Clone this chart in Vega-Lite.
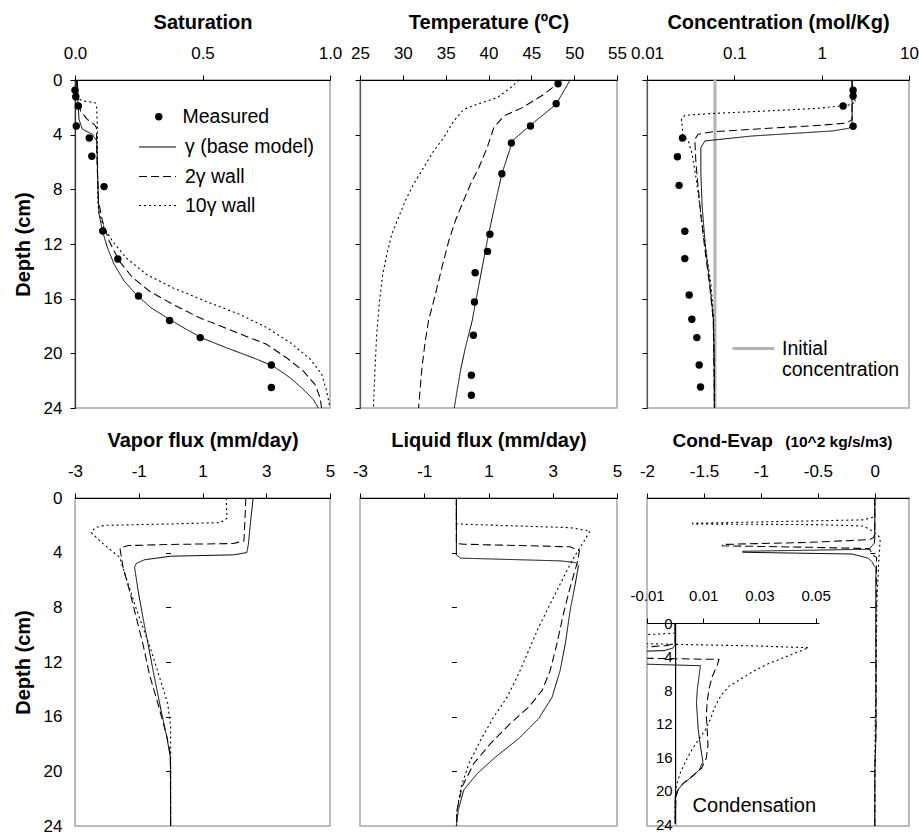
{
"$schema":"https://vega.github.io/schema/vega-lite/v6.json",
"padding":{"left":12,"top":11,"right":0,"bottom":0},
"background":"white",
"config":{
 "font":"Liberation Sans",
 "view":{"stroke":"#a6a6a6","strokeWidth":1.5},
 "axis":{"grid":false,"labelFont":"Liberation Sans","labelFontSize":17,"labelColor":"black","titleFont":"Liberation Sans","titleFontSize":20,"titleFontWeight":"bold","titleColor":"black","tickColor":"black","domainColor":"black","domainWidth":1.2,"tickSize":5,"labelFlush":false,"labelOverlap":false},
 "legend":{"labelFont":"Liberation Sans","labelColor":"black"}
},
"datasets":{
 "sat":[
  {"s":"b","d":0,"x":0.005},{"s":"b","d":1.5,"x":0.011},{"s":"b","d":2.9,"x":0.016},{"s":"b","d":3.6,"x":0.029},{"s":"b","d":3.97,"x":0.068},{"s":"b","d":4.46,"x":0.085},{"s":"b","d":6.4,"x":0.088},{"s":"b","d":8.85,"x":0.092},{"s":"b","d":9.83,"x":0.0945},{"s":"b","d":11.05,"x":0.1076},{"s":"b","d":12.27,"x":0.1273},{"s":"b","d":13.49,"x":0.1535},{"s":"b","d":14.71,"x":0.1929},{"s":"b","d":15.68,"x":0.239},{"s":"b","d":16.66,"x":0.298},{"s":"b","d":17.51,"x":0.37},{"s":"b","d":18.24,"x":0.436},{"s":"b","d":18.9,"x":0.501},{"s":"b","d":19.59,"x":0.593},{"s":"b","d":20.32,"x":0.698},{"s":"b","d":20.93,"x":0.777},{"s":"b","d":21.78,"x":0.843},{"s":"b","d":22.63,"x":0.895},{"s":"b","d":23.37,"x":0.934},{"s":"b","d":24,"x":0.954},
  {"s":"w2","d":0,"x":0.009},{"s":"w2","d":1.5,"x":0.012},{"s":"w2","d":2.27,"x":0.022},{"s":"w2","d":2.88,"x":0.048},{"s":"w2","d":3.24,"x":0.075},{"s":"w2","d":3.49,"x":0.084},{"s":"w2","d":6.4,"x":0.087},{"s":"w2","d":8.85,"x":0.092},{"s":"w2","d":10.32,"x":0.1076},{"s":"w2","d":11.78,"x":0.134},{"s":"w2","d":13.24,"x":0.173},{"s":"w2","d":14.46,"x":0.226},{"s":"w2","d":15.44,"x":0.291},{"s":"w2","d":16.41,"x":0.383},{"s":"w2","d":17.39,"x":0.488},{"s":"w2","d":18.37,"x":0.619},{"s":"w2","d":19.34,"x":0.751},{"s":"w2","d":20.32,"x":0.829},{"s":"w2","d":21.29,"x":0.895},{"s":"w2","d":22.27,"x":0.941},{"s":"w2","d":23.24,"x":0.961},{"s":"w2","d":24,"x":0.967},
  {"s":"w10","d":0,"x":0.005},{"s":"w10","d":1.41,"x":0.016},{"s":"w10","d":1.54,"x":0.035},{"s":"w10","d":1.66,"x":0.079},{"s":"w10","d":2.03,"x":0.085},{"s":"w10","d":3.7,"x":0.088},{"s":"w10","d":8.85,"x":0.089},{"s":"w10","d":9.8,"x":0.094},{"s":"w10","d":10.8,"x":0.114},{"s":"w10","d":11.8,"x":0.147},{"s":"w10","d":13,"x":0.2},{"s":"w10","d":14.2,"x":0.278},{"s":"w10","d":15.2,"x":0.383},{"s":"w10","d":16.2,"x":0.514},{"s":"w10","d":17.15,"x":0.646},{"s":"w10","d":18.1,"x":0.75},{"s":"w10","d":19.2,"x":0.843},{"s":"w10","d":20.4,"x":0.921},{"s":"w10","d":21.5,"x":0.967},{"s":"w10","d":22.75,"x":0.987},{"s":"w10","d":24,"x":1.0}
 ],
 "satM":[
  {"s":"Measured","d":0.75,"x":0.0},{"s":"Measured","d":1.22,"x":0.003},{"s":"Measured","d":1.9,"x":0.013},{"s":"Measured","d":3.37,"x":0.005},{"s":"Measured","d":4.24,"x":0.056},{"s":"Measured","d":5.58,"x":0.066},{"s":"Measured","d":7.8,"x":0.114},{"s":"Measured","d":11.05,"x":0.109},{"s":"Measured","d":13.1,"x":0.168},{"s":"Measured","d":15.8,"x":0.249},{"s":"Measured","d":17.6,"x":0.371},{"s":"Measured","d":18.85,"x":0.491},{"s":"Measured","d":20.85,"x":0.77},{"s":"Measured","d":22.5,"x":0.77}
 ],
 "tmp":[
  {"s":"b","d":0,"x":49.53},{"s":"b","d":1.78,"x":47.89},{"s":"b","d":3.29,"x":44.92},{"s":"b","d":4.46,"x":42.77},{"s":"b","d":5.07,"x":42.5},{"s":"b","d":6.78,"x":41.6},{"s":"b","d":8.36,"x":41.02},{"s":"b","d":10.07,"x":40.43},{"s":"b","d":11.78,"x":39.85},{"s":"b","d":13.73,"x":39.26},{"s":"b","d":15.68,"x":38.67},{"s":"b","d":17.63,"x":38.09},{"s":"b","d":19.59,"x":37.3},{"s":"b","d":21.29,"x":36.72},{"s":"b","d":24,"x":36.0},
  {"s":"w2","d":0,"x":48.6},{"s":"w2","d":1.05,"x":46.48},{"s":"w2","d":2.02,"x":43.95},{"s":"w2","d":2.63,"x":41.8},{"s":"w2","d":3.49,"x":40.62},{"s":"w2","d":4.95,"x":39.84},{"s":"w2","d":6.42,"x":38.87},{"s":"w2","d":7.63,"x":37.89},{"s":"w2","d":9.1,"x":36.91},{"s":"w2","d":10.3,"x":36.13},{"s":"w2","d":11.8,"x":35.35},{"s":"w2","d":13.7,"x":34.57},{"s":"w2","d":15.7,"x":33.79},{"s":"w2","d":17.6,"x":33.0},{"s":"w2","d":19.1,"x":32.62},{"s":"w2","d":21.05,"x":32.23},{"s":"w2","d":24,"x":31.84},
  {"s":"w10","d":0,"x":43.56},{"s":"w10","d":0.56,"x":42.58},{"s":"w10","d":1.29,"x":41.02},{"s":"w10","d":1.78,"x":38.67},{"s":"w10","d":2.15,"x":37.11},{"s":"w10","d":3.0,"x":35.94},{"s":"w10","d":4.22,"x":34.77},{"s":"w10","d":5.2,"x":33.59},{"s":"w10","d":6.42,"x":32.42},{"s":"w10","d":7.63,"x":31.25},{"s":"w10","d":8.85,"x":30.27},{"s":"w10","d":10.07,"x":29.49},{"s":"w10","d":11.29,"x":28.71},{"s":"w10","d":12.76,"x":28.13},{"s":"w10","d":14.2,"x":27.66},{"s":"w10","d":16.2,"x":27.27},{"s":"w10","d":18.6,"x":26.95},{"s":"w10","d":21.05,"x":26.76},{"s":"w10","d":24,"x":26.56}
 ],
 "tmpM":[
  {"d":0.27,"x":48.12},{"d":1.73,"x":47.9},{"d":3.37,"x":44.9},{"d":4.61,"x":42.66},{"d":6.86,"x":41.56},{"d":11.29,"x":40.16},{"d":12.54,"x":39.88},{"d":14.1,"x":38.44},{"d":16.24,"x":38.36},{"d":18.68,"x":38.24},{"d":21.6,"x":38.0},{"d":23.07,"x":38.0}
 ],
 "con":[
  {"s":"b","d":0,"x":2.23},{"s":"b","d":3.24,"x":2.23},{"s":"b","d":3.54,"x":2.04},{"s":"b","d":3.73,"x":1.31},{"s":"b","d":4.1,"x":0.158},{"s":"b","d":4.46,"x":0.046},{"s":"b","d":4.95,"x":0.0414},{"s":"b","d":6.9,"x":0.0414},{"s":"b","d":9.34,"x":0.0429},{"s":"b","d":12.27,"x":0.0468},{"s":"b","d":14.95,"x":0.0525},{"s":"b","d":17.39,"x":0.0574},{"s":"b","d":21.05,"x":0.0592},{"s":"b","d":24,"x":0.0592},
  {"s":"w2","d":0,"x":2.23},{"s":"w2","d":2.88,"x":2.23},{"s":"w2","d":3.15,"x":1.95},{"s":"w2","d":3.32,"x":0.924},{"s":"w2","d":3.61,"x":0.158},{"s":"w2","d":3.8,"x":0.0548},{"s":"w2","d":3.97,"x":0.0386},{"s":"w2","d":4.34,"x":0.0353},{"s":"w2","d":5.93,"x":0.0362},{"s":"w2","d":7.88,"x":0.0386},{"s":"w2","d":10.3,"x":0.042},{"s":"w2","d":12.75,"x":0.0468},{"s":"w2","d":15.2,"x":0.0525},{"s":"w2","d":17.6,"x":0.0574},{"s":"w2","d":24,"x":0.0592},
  {"s":"w10","d":0,"x":2.23},{"s":"w10","d":1.29,"x":2.29},{"s":"w10","d":1.61,"x":2.48},{"s":"w10","d":1.83,"x":2.04},{"s":"w10","d":2.07,"x":0.924},{"s":"w10","d":2.32,"x":0.158},{"s":"w10","d":2.44,"x":0.06},{"s":"w10","d":2.58,"x":0.0271},{"s":"w10","d":2.88,"x":0.0248},{"s":"w10","d":4.1,"x":0.0259},{"s":"w10","d":4.41,"x":0.0296},{"s":"w10","d":5.44,"x":0.0329},{"s":"w10","d":7.39,"x":0.0369},{"s":"w10","d":9.83,"x":0.0414},{"s":"w10","d":12.27,"x":0.0468},{"s":"w10","d":14.95,"x":0.054},{"s":"w10","d":17.4,"x":0.058},{"s":"w10","d":24,"x":0.0592}
 ],
 "conM":[
  {"d":0.75,"x":2.29},{"d":1.17,"x":2.29},{"d":1.9,"x":1.76},{"d":3.39,"x":2.29},{"d":4.24,"x":0.0255},{"d":5.61,"x":0.0223},{"d":7.71,"x":0.0233},{"d":11.07,"x":0.0271},{"d":13.07,"x":0.0271},{"d":15.73,"x":0.0304},{"d":17.51,"x":0.0326},{"d":18.85,"x":0.0372},{"d":20.85,"x":0.0396},{"d":22.46,"x":0.041}
 ],
 "conI":[{"s":"Initial concentration","d":0,"x":0.06},{"s":"Initial concentration","d":24,"x":0.06}],
 "vap":[
  {"s":"b","d":0,"x":2.59},{"s":"b","d":1.68,"x":2.51},{"s":"b","d":3.38,"x":2.44},{"s":"b","d":3.99,"x":2.39},{"s":"b","d":4.16,"x":1.97},{"s":"b","d":4.26,"x":0},{"s":"b","d":4.52,"x":-0.82},{"s":"b","d":4.79,"x":-1.08},{"s":"b","d":5.08,"x":-1.13},{"s":"b","d":6.78,"x":-1.02},{"s":"b","d":8.73,"x":-0.87},{"s":"b","d":10.67,"x":-0.71},{"s":"b","d":13.1,"x":-0.51},{"s":"b","d":15.54,"x":-0.3},{"s":"b","d":17.49,"x":-0.12},{"s":"b","d":18.95,"x":-0.01},{"s":"b","d":19.9,"x":0},{"s":"b","d":24,"x":0},
  {"s":"w2","d":0,"x":2.36},{"s":"w2","d":1.68,"x":2.33},{"s":"w2","d":3.14,"x":2.3},{"s":"w2","d":3.33,"x":1.97},{"s":"w2","d":3.4,"x":0},{"s":"w2","d":3.48,"x":-1.33},{"s":"w2","d":3.67,"x":-1.59},{"s":"w2","d":5.08,"x":-1.49},{"s":"w2","d":6.78,"x":-1.29},{"s":"w2","d":8.73,"x":-1.08},{"s":"w2","d":10.67,"x":-0.87},{"s":"w2","d":12.86,"x":-0.67},{"s":"w2","d":15.05,"x":-0.4},{"s":"w2","d":17.24,"x":-0.14},{"s":"w2","d":18.7,"x":-0.01},{"s":"w2","d":24,"x":0},
  {"s":"w10","d":0,"x":1.74},{"s":"w10","d":1.48,"x":1.77},{"s":"w10","d":1.8,"x":1.56},{"s":"w10","d":1.9,"x":0},{"s":"w10","d":2.0,"x":-2.06},{"s":"w10","d":2.17,"x":-2.37},{"s":"w10","d":2.53,"x":-2.49},{"s":"w10","d":3.26,"x":-2.16},{"s":"w10","d":3.87,"x":-1.85},{"s":"w10","d":4.35,"x":-1.59},{"s":"w10","d":4.96,"x":-1.52},{"s":"w10","d":6.3,"x":-1.33},{"s":"w10","d":7.76,"x":-1.13},{"s":"w10","d":9.46,"x":-0.87},{"s":"w10","d":11.16,"x":-0.61},{"s":"w10","d":13.1,"x":-0.35},{"s":"w10","d":15.05,"x":-0.09},{"s":"w10","d":16.76,"x":0},{"s":"w10","d":24,"x":0}
 ],
 "liq":[
  {"s":"b","d":0,"x":0},{"s":"b","d":4.16,"x":0},{"s":"b","d":4.4,"x":0.13},{"s":"b","d":4.6,"x":3.23},{"s":"b","d":4.72,"x":3.7},{"s":"b","d":4.96,"x":3.8},{"s":"b","d":6.3,"x":3.7},{"s":"b","d":8.24,"x":3.54},{"s":"b","d":10.67,"x":3.39},{"s":"b","d":12.62,"x":3.23},{"s":"b","d":14.57,"x":2.98},{"s":"b","d":16.15,"x":2.56},{"s":"b","d":17.6,"x":1.94},{"s":"b","d":18.95,"x":1.22},{"s":"b","d":20.16,"x":0.65},{"s":"b","d":21.37,"x":0.23},{"s":"b","d":22.83,"x":0.06},{"s":"b","d":24,"x":0},
  {"s":"w2","d":0,"x":0},{"s":"w2","d":3.33,"x":0},{"s":"w2","d":3.38,"x":0.23},{"s":"w2","d":3.57,"x":3.54},{"s":"w2","d":3.87,"x":3.83},{"s":"w2","d":4.84,"x":3.75},{"s":"w2","d":6.54,"x":3.54},{"s":"w2","d":8.49,"x":3.33},{"s":"w2","d":10.67,"x":3.13},{"s":"w2","d":12.62,"x":2.92},{"s":"w2","d":14.08,"x":2.67},{"s":"w2","d":15.3,"x":2.25},{"s":"w2","d":16.5,"x":1.68},{"s":"w2","d":17.97,"x":1.06},{"s":"w2","d":19.43,"x":0.54},{"s":"w2","d":21.13,"x":0.18},{"s":"w2","d":22.83,"x":0.02},{"s":"w2","d":24,"x":0},
  {"s":"w10","d":0,"x":0},{"s":"w10","d":1.87,"x":0},{"s":"w10","d":1.92,"x":0.23},{"s":"w10","d":2.17,"x":3.54},{"s":"w10","d":2.41,"x":4.16},{"s":"w10","d":3.26,"x":3.95},{"s":"w10","d":3.99,"x":3.75},{"s":"w10","d":5.08,"x":3.49},{"s":"w10","d":6.3,"x":3.23},{"s":"w10","d":7.76,"x":2.92},{"s":"w10","d":9.46,"x":2.56},{"s":"w10","d":11.16,"x":2.25},{"s":"w10","d":12.86,"x":1.94},{"s":"w10","d":14.57,"x":1.58},{"s":"w10","d":16.03,"x":1.16},{"s":"w10","d":17.73,"x":0.75},{"s":"w10","d":19.43,"x":0.39},{"s":"w10","d":21.13,"x":0.15},{"s":"w10","d":22.83,"x":0.02},{"s":"w10","d":24,"x":0}
 ],
 "ce":[
  {"s":"b","d":0,"x":0},{"s":"b","d":2.6,"x":0},{"s":"b","d":3.0,"x":-0.0008},{"s":"b","d":3.3,"x":-0.004},{"s":"b","d":3.75,"x":-0.05},{"s":"b","d":3.9,"x":-1.16},{"s":"b","d":3.97,"x":-1.16},{"s":"b","d":4.1,"x":-0.2},{"s":"b","d":4.4,"x":-0.06},{"s":"b","d":4.7,"x":-0.02},{"s":"b","d":4.9,"x":-0.012},{"s":"b","d":5.1,"x":0.009},{"s":"b","d":6.4,"x":0.0085},{"s":"b","d":7.96,"x":0.0079},{"s":"b","d":9.52,"x":0.0076},{"s":"b","d":11.09,"x":0.0079},{"s":"b","d":12.64,"x":0.0082},{"s":"b","d":14.2,"x":0.0088},{"s":"b","d":15.96,"x":0.0096},{"s":"b","d":16.54,"x":0.0099},{"s":"b","d":17.52,"x":0.0087},{"s":"b","d":18.5,"x":0.0055},{"s":"b","d":19.28,"x":0.0025},{"s":"b","d":20.05,"x":0.0008},{"s":"b","d":21,"x":0},{"s":"b","d":24,"x":0},
  {"s":"w2","d":0,"x":0},{"s":"w2","d":2.4,"x":0},{"s":"w2","d":2.7,"x":-0.003},{"s":"w2","d":2.9,"x":-0.012},{"s":"w2","d":3.05,"x":-0.05},{"s":"w2","d":3.25,"x":-0.6},{"s":"w2","d":3.4,"x":-1.34},{"s":"w2","d":3.5,"x":-1.34},{"s":"w2","d":3.6,"x":-0.6},{"s":"w2","d":3.7,"x":-0.05},{"s":"w2","d":4.2,"x":-0.012},{"s":"w2","d":4.35,"x":0.0156},{"s":"w2","d":5.03,"x":0.015},{"s":"w2","d":6.4,"x":0.0132},{"s":"w2","d":7.96,"x":0.012},{"s":"w2","d":9.52,"x":0.0114},{"s":"w2","d":11.09,"x":0.0111},{"s":"w2","d":12.64,"x":0.0114},{"s":"w2","d":14.6,"x":0.0117},{"s":"w2","d":16.16,"x":0.0111},{"s":"w2","d":17.33,"x":0.0094},{"s":"w2","d":18.3,"x":0.0061},{"s":"w2","d":19.1,"x":0.0031},{"s":"w2","d":19.87,"x":0.0011},{"s":"w2","d":20.8,"x":0.0003},{"s":"w2","d":24,"x":0},
  {"s":"w10","d":0,"x":0},{"s":"w10","d":1.2,"x":0},{"s":"w10","d":1.3,"x":-0.004},{"s":"w10","d":1.4,"x":-0.012},{"s":"w10","d":1.6,"x":-0.1},{"s":"w10","d":1.75,"x":-1.0},{"s":"w10","d":1.85,"x":-1.6},{"s":"w10","d":1.9,"x":-1.6},{"s":"w10","d":1.95,"x":-0.5},{"s":"w10","d":2.05,"x":-0.1},{"s":"w10","d":2.45,"x":-0.012},{"s":"w10","d":2.55,"x":0},{"s":"w10","d":2.75,"x":0.03},{"s":"w10","d":2.95,"x":0.0475},{"s":"w10","d":4.06,"x":0.0392},{"s":"w10","d":4.84,"x":0.0333},{"s":"w10","d":5.62,"x":0.0286},{"s":"w10","d":6.6,"x":0.0238},{"s":"w10","d":7.57,"x":0.0191},{"s":"w10","d":8.74,"x":0.0162},{"s":"w10","d":9.72,"x":0.0146},{"s":"w10","d":10.3,"x":0.0138},{"s":"w10","d":11.47,"x":0.0126},{"s":"w10","d":12.84,"x":0.0106},{"s":"w10","d":14.0,"x":0.0082},{"s":"w10","d":15.18,"x":0.0059},{"s":"w10","d":16.54,"x":0.0037},{"s":"w10","d":18.1,"x":0.0016},{"s":"w10","d":19.67,"x":0.0003},{"s":"w10","d":21,"x":0},{"s":"w10","d":24,"x":0}
 ]
},
"columns":3,
"spacing":{"row":90,"column":30},
"bounds":"flush",
"concat":[
  {"width":255,"height":328,
   "layer":[
    {"data":{"name":"sat"},"mark":{"type":"line","color":"black"},
     "encoding":{
      "x":{"field":"x","type":"quantitative","scale":{"domain":[0,1],"nice":false,"zero":false},"axis":{"orient":"top","values":[0,0.5,1],"format":".1f","title":"Saturation","labelPadding":13,"titleY":-52,"titleBaseline":"alphabetic"}},
      "y":{"field":"d","type":"quantitative","scale":{"domain":[0,24],"reverse":true,"nice":false,"zero":false},"axis":{"values":[0,4,8,12,16,20,24],"title":"Depth (cm)","labelPadding":8,"titlePadding":10,"domainColor":"#333"}},
      "order":{"field":"d","type":"quantitative"},
      "strokeDash":{"field":"s","type":"nominal","scale":{"domain":["b","w2","w10"],"range":[[1,0],[8,4],[2,3]]},
        "legend":{"orient":"none","legendX":63,"legendY":48,"title":null,"symbolType":"stroke","symbolSize":1369,"symbolStrokeWidth":1.3,"symbolStrokeColor":"black","labelFontSize":19.5,"labelOffset":8,"rowPadding":-2,"labelExpr":"{'b':'γ (base model)','w2':'2γ wall','w10':'10γ wall'}[datum.label]"}},
      "strokeWidth":{"field":"s","type":"ordinal","scale":{"domain":["b","w2","w10"],"range":[1,1.1,1.6]},"legend":null}
     }},
    {"data":{"name":"satM"},"mark":{"type":"point","filled":true,"color":"black","size":55,"opacity":1},
     "encoding":{
      "x":{"field":"x","type":"quantitative"},
      "y":{"field":"d","type":"quantitative"},
      "shape":{"field":"s","type":"nominal","scale":{"domain":["Measured"],"range":["circle"]},
        "legend":{"orient":"none","legendX":74,"legendY":27,"title":null,"symbolSize":55,"symbolFillColor":"black","symbolStrokeColor":"black","labelFontSize":19.5,"labelOffset":14}}
     }}
   ]},
  {"width":257,"height":328,
   "layer":[
    {"data":{"name":"tmp"},"mark":{"type":"line","color":"black"},
     "encoding":{
      "x":{"field":"x","type":"quantitative","scale":{"domain":[25,55],"nice":false,"zero":false},"axis":{"orient":"top","values":[25,30,35,40,45,50,55],"title":"Temperature (ºC)","labelPadding":13,"titleY":-52,"titleBaseline":"alphabetic"}},
      "y":{"field":"d","type":"quantitative","scale":{"domain":[0,24],"reverse":true,"nice":false,"zero":false},"axis":{"values":[0,4,8,12,16,20,24],"labels":false,"title":null,"domainColor":"#555"}},
      "order":{"field":"d","type":"quantitative"},
      "strokeDash":{"field":"s","type":"nominal","scale":{"domain":["b","w2","w10"],"range":[[1,0],[8,4],[2,3]]},"legend":null},
      "strokeWidth":{"field":"s","type":"ordinal","scale":{"domain":["b","w2","w10"],"range":[1,1.1,1.6]},"legend":null}
     }},
    {"data":{"name":"tmpM"},"mark":{"type":"point","filled":true,"color":"black","size":55,"opacity":1},
     "encoding":{"x":{"field":"x","type":"quantitative"},"y":{"field":"d","type":"quantitative"}}}
   ]},
  {"width":262,"height":328,
   "layer":[
    {"data":{"name":"conI"},"mark":{"type":"line","strokeWidth":3},
     "encoding":{
      "x":{"field":"x","type":"quantitative","scale":{"type":"log","domain":[0.01,10],"nice":false},"axis":{"orient":"top","values":[0.01,0.1,1,10],"labelExpr":"datum.value + ''","title":"Concentration (mol/Kg)","labelPadding":13,"titleY":-52,"titleBaseline":"alphabetic"}},
      "y":{"field":"d","type":"quantitative","scale":{"domain":[0,24],"reverse":true,"nice":false,"zero":false},"axis":{"values":[0,4,8,12,16,20,24],"labels":false,"title":null,"domainColor":"#555"}},
      "stroke":{"field":"s","type":"nominal","scale":{"domain":["Initial concentration"],"range":["#b3b3b3"]},
        "legend":{"orient":"none","legendX":656,"legendY":246,"title":null,"symbolType":"stroke","symbolSize":1764,"symbolStrokeWidth":3,"labelFontSize":19.5,"labelOffset":6,"labelExpr":"['Initial','concentration']"}}
     }},
    {"data":{"name":"con"},"mark":{"type":"line","color":"black"},
     "encoding":{
      "x":{"field":"x","type":"quantitative"},
      "y":{"field":"d","type":"quantitative"},
      "order":{"field":"d","type":"quantitative"},
      "strokeDash":{"field":"s","type":"nominal","scale":{"domain":["b","w2","w10"],"range":[[1,0],[8,4],[2,3]]},"legend":null},
      "strokeWidth":{"field":"s","type":"ordinal","scale":{"domain":["b","w2","w10"],"range":[1,1.1,1.6]},"legend":null}
     }},
    {"data":{"name":"conM"},"mark":{"type":"point","filled":true,"color":"black","size":55,"opacity":1},
     "encoding":{"x":{"field":"x","type":"quantitative"},"y":{"field":"d","type":"quantitative"}}}
   ]},
  {"width":255,"height":328,
   "resolve":{"axis":{"x":"independent","y":"independent"}},
   "layer":[
    {"data":{"name":"vap"},"mark":{"type":"line","color":"black"},
     "encoding":{
      "x":{"field":"x","type":"quantitative","scale":{"domain":[-3,5],"nice":false,"zero":false},"axis":{"orient":"top","values":[-3,-1,1,3,5],"labelExpr":"datum.value + ''","title":"Vapor flux (mm/day)","labelPadding":13,"titleY":-52,"titleBaseline":"alphabetic"}},
      "y":{"field":"d","type":"quantitative","scale":{"domain":[0,24],"reverse":true,"nice":false,"zero":false},"axis":{"values":[0,4,8,12,16,20,24],"title":"Depth (cm)","ticks":false,"tickSize":0,"domain":false,"labelPadding":13,"titlePadding":10}},
      "order":{"field":"d","type":"quantitative"},
      "strokeDash":{"field":"s","type":"nominal","scale":{"domain":["b","w2","w10"],"range":[[1,0],[8,4],[2,3]]},"legend":null},
      "strokeWidth":{"field":"s","type":"ordinal","scale":{"domain":["b","w2","w10"],"range":[1,1.1,1.6]},"legend":null}
     }},
    {"mark":{"type":"rule","color":"black","strokeWidth":1.2},
     "encoding":{
      "x":{"datum":0,"type":"quantitative","axis":null},
      "y":{"datum":0,"type":"quantitative","axis":{"orient":"left","offset":-95.6,"values":[4,8,12,16,20],"labels":false,"domain":false,"title":null}},
      "y2":{"datum":24}
     }}
   ]},
  {"width":257,"height":328,
   "resolve":{"axis":{"x":"independent","y":"independent"}},
   "layer":[
    {"data":{"name":"liq"},"mark":{"type":"line","color":"black"},
     "encoding":{
      "x":{"field":"x","type":"quantitative","scale":{"domain":[-3,5],"nice":false,"zero":false},"axis":{"orient":"top","values":[-3,-1,1,3,5],"labelExpr":"datum.value + ''","title":"Liquid flux (mm/day)","labelPadding":13,"titleY":-52,"titleBaseline":"alphabetic"}},
      "y":{"field":"d","type":"quantitative","scale":{"domain":[0,24],"reverse":true,"nice":false,"zero":false},"axis":null},
      "order":{"field":"d","type":"quantitative"},
      "strokeDash":{"field":"s","type":"nominal","scale":{"domain":["b","w2","w10"],"range":[[1,0],[8,4],[2,3]]},"legend":null},
      "strokeWidth":{"field":"s","type":"ordinal","scale":{"domain":["b","w2","w10"],"range":[1,1.1,1.6]},"legend":null}
     }},
    {"mark":{"type":"rule","color":"black","strokeWidth":1.2},
     "encoding":{
      "x":{"datum":0,"type":"quantitative","axis":null},
      "y":{"datum":0,"type":"quantitative","axis":{"orient":"left","offset":-96.4,"values":[4,8,12,16,20],"labels":false,"domain":false,"title":null}},
      "y2":{"datum":24}
     }}
   ]},
  {"width":262,"height":328,
   "resolve":{"scale":{"x":"independent","y":"independent"},"axis":{"x":"independent","y":"independent"}},
   "layer":[
    {"data":{"name":"ce"},"mark":{"type":"line","color":"black"},
     "encoding":{
      "x":{"field":"x","type":"quantitative","scale":{"domain":[-2,0.3],"nice":false,"zero":false},"axis":{"orient":"top","values":[-2,-1.5,-1,-0.5,0],"labelExpr":"datum.value + ''","title":"Cond-Evap","titleFontSize":19,"titleX":25,"titleAlign":"left","labelPadding":13,"titleY":-52,"titleBaseline":"alphabetic"}},
      "y":{"field":"d","type":"quantitative","scale":{"domain":[0,24],"reverse":true,"nice":false,"zero":false},"axis":null},
      "order":{"field":"d","type":"quantitative"},
      "strokeDash":{"field":"s","type":"nominal","scale":{"domain":["b","w2","w10"],"range":[[1,0],[8,4],[2,3]]},"legend":null},
      "strokeWidth":{"field":"s","type":"ordinal","scale":{"domain":["b","w2","w10"],"range":[1,1.1,1.6]},"legend":null}
     }},
    {"mark":{"type":"rule","color":"black","strokeWidth":1.2},
     "encoding":{
      "x":{"datum":0,"type":"quantitative","scale":{"domain":[-2,0.3],"nice":false,"zero":false},"axis":{"orient":"top","labels":false,"ticks":false,"domain":false,"title":"(10^2 kg/s/m3)","titleFontSize":15.5,"titleX":245,"titleAlign":"right","titleY":-52,"titleBaseline":"alphabetic"}},
      "y":{"datum":0,"type":"quantitative","scale":{"domain":[0,24],"reverse":true,"nice":false,"zero":false},"axis":{"orient":"left","offset":-227.8,"values":[4,8,12,16,20],"labels":false,"domain":false,"title":null}},
      "y2":{"datum":24}
     }},
    {"mark":{"type":"rect","fill":"white"},
     "encoding":{
      "x":{"datum":-0.0105,"type":"quantitative","scale":{"domain":[-0.01,0.0512],"range":[0,172],"nice":false,"zero":false},"axis":null},
      "x2":{"datum":0.0512},
      "y":{"datum":-5.6,"type":"quantitative","scale":{"domain":[0,24],"range":[125,326],"nice":false,"zero":false},"axis":null},
      "y2":{"datum":24.3}
     }},
    {"mark":{"type":"rect","fill":null,"stroke":"#a6a6a6","strokeWidth":1.5},
     "encoding":{
      "x":{"datum":-0.01,"type":"quantitative","scale":{"domain":[-0.01,0.0512],"range":[0,172],"nice":false,"zero":false},"axis":null},
      "x2":{"datum":0.0512},
      "y":{"datum":0,"type":"quantitative","scale":{"domain":[0,24],"range":[125,326],"nice":false,"zero":false},"axis":null},
      "y2":{"datum":24.3}
     }},
    {"mark":{"type":"rule","color":"#333","strokeWidth":1.2},
     "encoding":{
      "x":{"datum":-0.01,"type":"quantitative","scale":{"domain":[-0.01,0.0512],"range":[0,172],"nice":false,"zero":false},"axis":null},
      "y":{"datum":0,"type":"quantitative","scale":{"domain":[0,24],"range":[125,326],"nice":false,"zero":false},"axis":null},
      "y2":{"datum":24.3}
     }},
    {"data":{"name":"ce"},"mark":{"type":"line","color":"black","clip":true},
     "encoding":{
      "x":{"field":"x","type":"quantitative","scale":{"domain":[-0.01,0.0512],"range":[0,172],"nice":false,"zero":false},"axis":{"orient":"top","offset":-125,"values":[-0.01,0.01,0.03,0.05],"labelExpr":"datum.value + ''","labelFontSize":15,"labelPadding":15,"title":null}},
      "y":{"field":"d","type":"quantitative","scale":{"domain":[0,24],"range":[125,326],"nice":false,"zero":false},"axis":{"orient":"left","offset":-28.1,"values":[0,4,8,12,16,20,24],"ticks":false,"tickSize":0,"domain":true,"labelPadding":3,"labelFontSize":15,"title":"Condensation","titleAngle":0,"titleFontWeight":"normal","titleFontSize":20,"titleX":17,"titleY":313,"titleAlign":"left","titleBaseline":"alphabetic"}},
      "order":{"field":"d","type":"quantitative"},
      "strokeDash":{"field":"s","type":"nominal","scale":{"domain":["b","w2","w10"],"range":[[1,0],[8,4],[2,3]]},"legend":null},
      "strokeWidth":{"field":"s","type":"ordinal","scale":{"domain":["b","w2","w10"],"range":[1,1.1,1.6]},"legend":null}
     }}
   ]}
]
}
